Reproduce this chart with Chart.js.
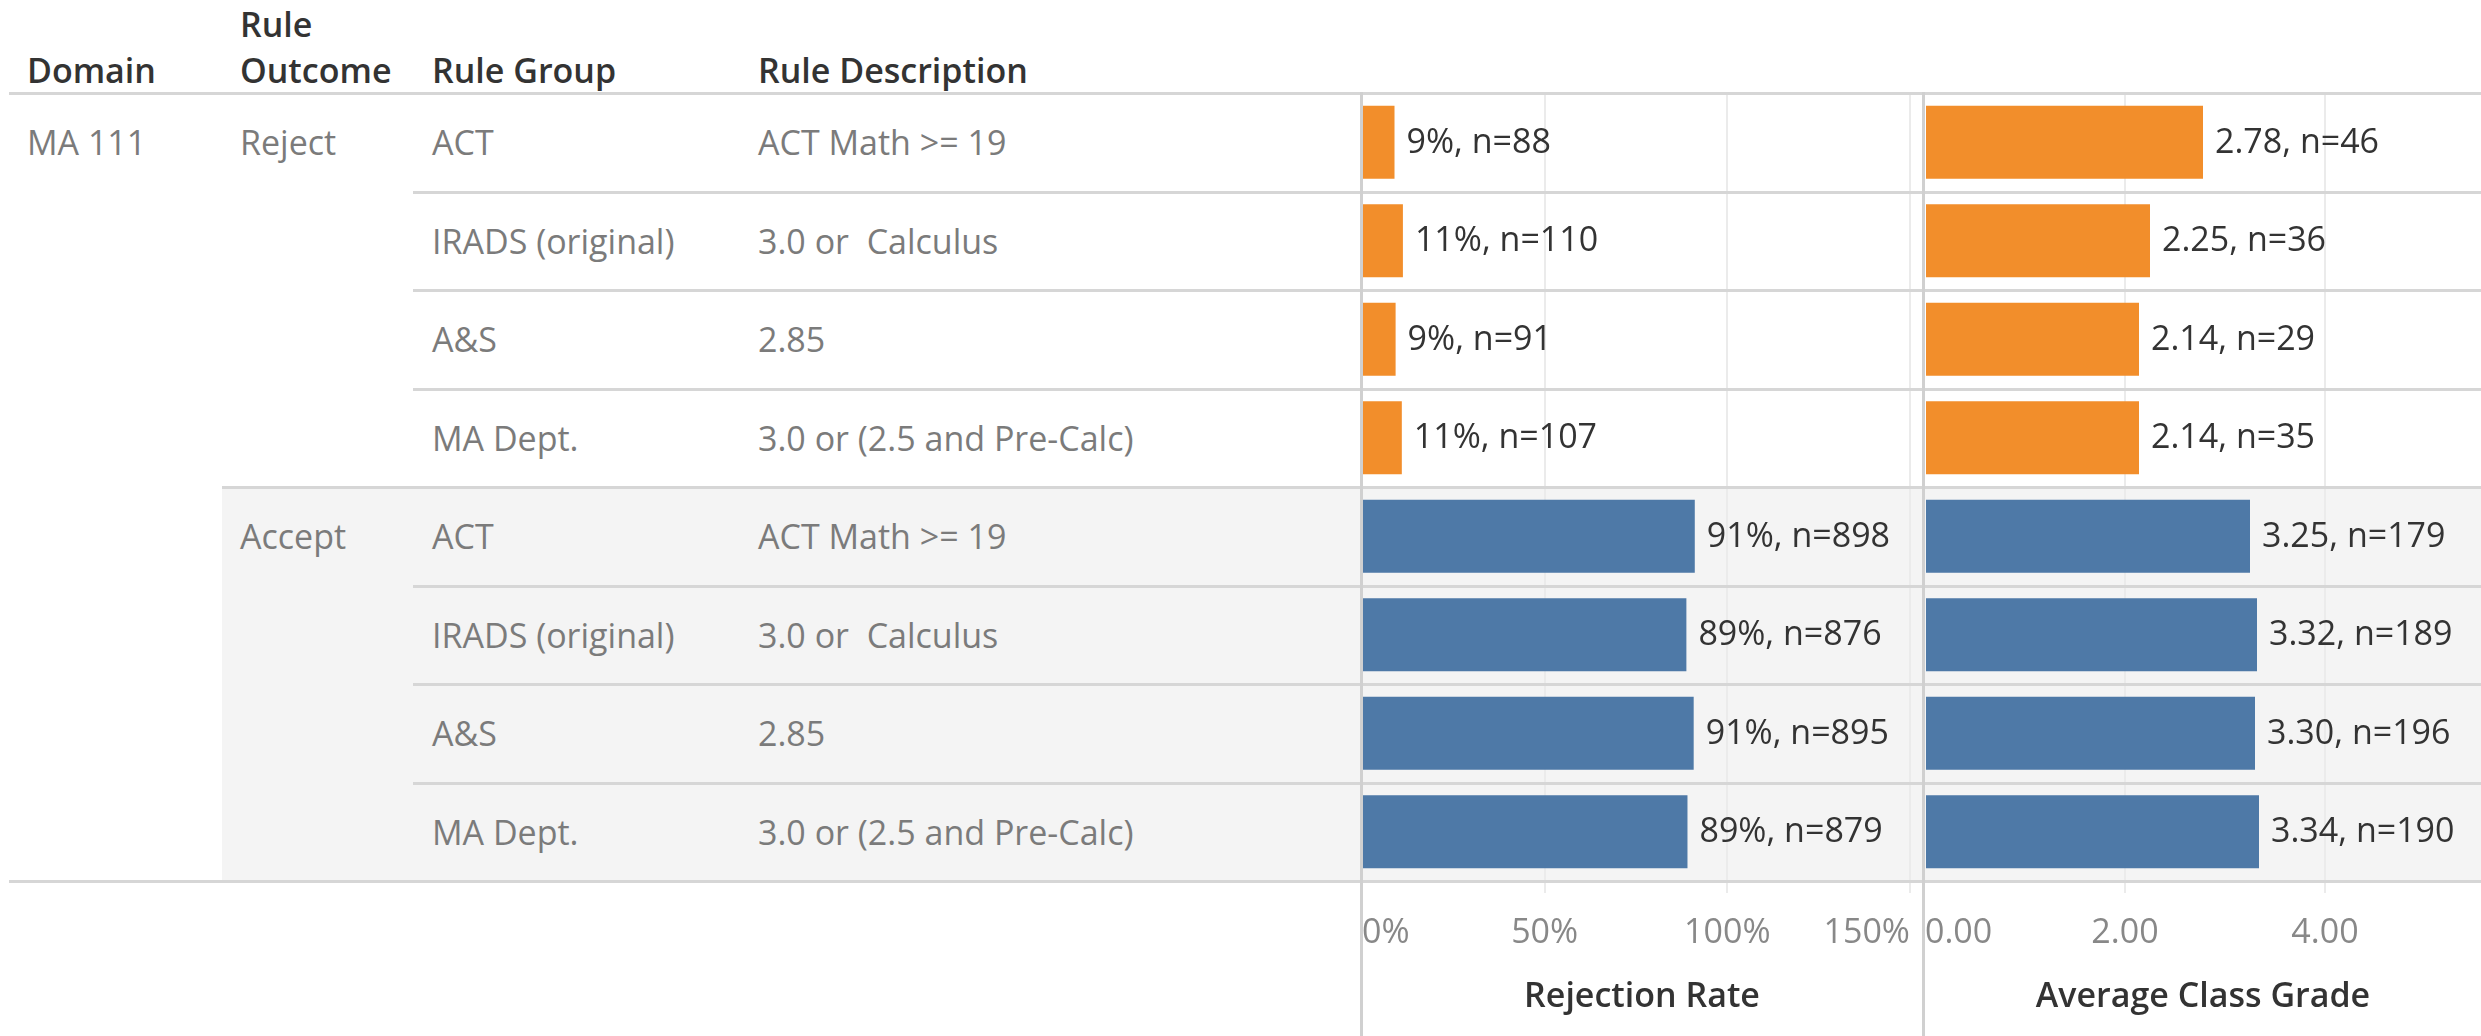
<!DOCTYPE html>
<html lang="en">
<head>
<meta charset="UTF-8">
<title>MA 111 Rule Outcomes</title>
<script src="https://cdn.jsdelivr.net/npm/chart.js"></script>
<style>
  html, body { margin: 0; padding: 0; background: #fff; }
  body {
    width: 2481px; height: 1036px; position: relative; overflow: hidden;
    font-family: "Open Sans", sans-serif; font-size: 34px;
  }
  .cell { position: absolute; display: flex; align-items: center; white-space: pre; color: #7b7b7b; }
  .hdr { position: absolute; color: #333; font-weight: 600; line-height: 46px; white-space: pre; }
  .hline { position: absolute; height: 3px; background: #d6d6d6; right: 0; z-index: 3; }
  .vline { position: absolute; width: 3px; background: #d0d0d0; top: 92px; bottom: 0; z-index: 3; }
  #band { position: absolute; left: 222px; right: 0; top: 487px; height: 394px; background: #f4f4f4; }
  canvas { position: absolute; z-index: 2; }
</style>
</head>
<body>
<div id="band"></div>

<div class="hdr" style="left:27px; top:47px;">Domain</div>
<div class="hdr" style="left:240px; top:1px;">Rule
Outcome</div>
<div class="hdr" style="left:432px; top:47px;">Rule Group</div>
<div class="hdr" style="left:758px; top:47px;">Rule Description</div>

<div id="rows"></div>

<canvas id="rejectChart" width="560" height="943" style="left:1362px; top:93px;"></canvas>
<canvas id="gradeChart" width="556" height="943" style="left:1925px; top:93px;"></canvas>

<div class="vline" style="left:1360px;"></div>
<div class="vline" style="left:1922px;"></div>

<script>
// --- data ---
const domains = ['MA 111', 'MA 111', 'MA 111', 'MA 111', 'MA 111', 'MA 111', 'MA 111', 'MA 111'];
const outcomes = ['Reject', 'Reject', 'Reject', 'Reject', 'Accept', 'Accept', 'Accept', 'Accept'];
const ruleGroups = ['ACT', 'IRADS (original)', 'A&S', 'MA Dept.', 'ACT', 'IRADS (original)', 'A&S', 'MA Dept.'];
const ruleDescriptions = ['ACT Math >= 19', '3.0 or  Calculus', '2.85', '3.0 or (2.5 and Pre-Calc)',
                          'ACT Math >= 19', '3.0 or  Calculus', '2.85', '3.0 or (2.5 and Pre-Calc)'];

const rejectionRate = [8.9, 11.2, 9.2, 10.9, 91.1, 88.8, 90.8, 89.1];   // percent
const rejectionN = [88, 110, 91, 107, 898, 876, 895, 879];
const avgGrade = [2.78, 2.25, 2.14, 2.14, 3.25, 3.32, 3.30, 3.34];
const gradeN = [46, 36, 29, 35, 179, 189, 196, 190];

const rejectionTicks = [0, 50, 100, 150];
const gradeTicks = [0, 2, 4];

const outcomeColors = { Reject: '#f28e2b', Accept: '#4e79a7' };

// --- table on the left ---
const ROW_TOP = 93, ROW_H = 98.5;
const rowsEl = document.getElementById('rows');

function addCell(text, left, i) {
  const d = document.createElement('div');
  d.className = 'cell';
  d.style.left = left + 'px';
  d.style.top = (ROW_TOP + i * ROW_H) + 'px';
  d.style.height = ROW_H + 'px';
  d.textContent = text;
  rowsEl.appendChild(d);
}

function addLine(y, left) {
  const d = document.createElement('div');
  d.className = 'hline';
  d.style.left = left + 'px';
  d.style.top = (y - 1) + 'px';
  rowsEl.appendChild(d);
}

addLine(ROW_TOP, 9);
ruleGroups.forEach((g, i) => {
  if (i === 0 || domains[i] !== domains[i - 1]) addCell(domains[i], 27, i);
  if (i === 0 || outcomes[i] !== outcomes[i - 1]) addCell(outcomes[i], 240, i);
  addCell(g, 432, i);
  addCell(ruleDescriptions[i], 758, i);

  const y = Math.round(ROW_TOP + (i + 1) * ROW_H);
  if (i === ruleGroups.length - 1) addLine(y, 9);
  else if (outcomes[i] !== outcomes[i + 1]) addLine(y, 222);
  else addLine(y, 413);
});

// --- bar panels ---
const valueLabels = {
  id: 'valueLabels',
  afterDatasetsDraw(chart) {
    const ctx = chart.ctx;
    const ds = chart.data.datasets[0];
    const meta = chart.getDatasetMeta(0);
    ctx.save();
    ctx.font = '34px "Open Sans"';
    ctx.fillStyle = '#333';
    ctx.textBaseline = 'middle';
    ctx.textAlign = 'left';
    meta.data.forEach((bar, i) => {
      ctx.fillText(ds.valueLabels[i], bar.x + 12, bar.y + 1);
    });
    ctx.restore();
  }
};

function makePanel(id, values, labels, ticks, max, tickText, title) {
  const ctx = document.getElementById(id).getContext('2d');
  return new Chart(ctx, {
    type: 'bar',
    data: {
      labels: ruleGroups.map((g, i) => outcomes[i] + ' ' + g),
      datasets: [{
        data: values,
        valueLabels: labels,
        backgroundColor: outcomes.map(o => outcomeColors[o]),
        borderWidth: 0,
        categoryPercentage: 1,
        barPercentage: 0.74
      }]
    },
    options: {
      indexAxis: 'y',
      responsive: false,
      animation: false,
      layout: { padding: 0 },
      plugins: { legend: { display: false }, tooltip: { enabled: false } },
      scales: {
        y: { display: false },
        x: {
          min: 0,
          max: max,
          afterBuildTicks: s => {
            const t = ticks.map(v => ({ value: v }));
            if (ticks[ticks.length - 1] < max && id === 'gradeChart') t.push({ value: max });
            s.ticks = t;
          },
          afterFit: s => {
            // fixed axis band under the rows, and no side padding so the bars start at the panel edge
            s.height = 155;
            s.paddingLeft = 0;
            s.paddingRight = 0;
          },
          border: { display: false },
          grid: {
            color: c => (c.tick && c.tick.value > 0 && ticks.includes(c.tick.value)) ? '#ebebeb' : 'rgba(0,0,0,0)',
            lineWidth: 2,
            drawTicks: true,
            tickLength: 12
          },
          ticks: {
            align: 'inner',
            maxRotation: 0,
            autoSkip: false,
            padding: 20,
            color: '#888',
            font: { family: 'Open Sans', size: 34 },
            callback: v => ticks.includes(v) ? tickText(v) : ''
          },
          title: {
            display: true,
            text: title,
            color: '#333',
            font: { family: 'Open Sans', size: 34, weight: '600' },
            padding: { top: 0, bottom: 18 }
          }
        }
      }
    },
    plugins: [valueLabels]
  });
}

makePanel('rejectChart', rejectionRate,
  rejectionRate.map((v, i) => Math.round(v) + '%, n=' + rejectionN[i]),
  rejectionTicks, 153.3, v => v + '%', 'Rejection Rate');

makePanel('gradeChart', avgGrade,
  avgGrade.map((v, i) => v.toFixed(2) + ', n=' + gradeN[i]),
  gradeTicks, 5.56, v => v.toFixed(2), 'Average Class Grade');
</script>
</body>
</html>
